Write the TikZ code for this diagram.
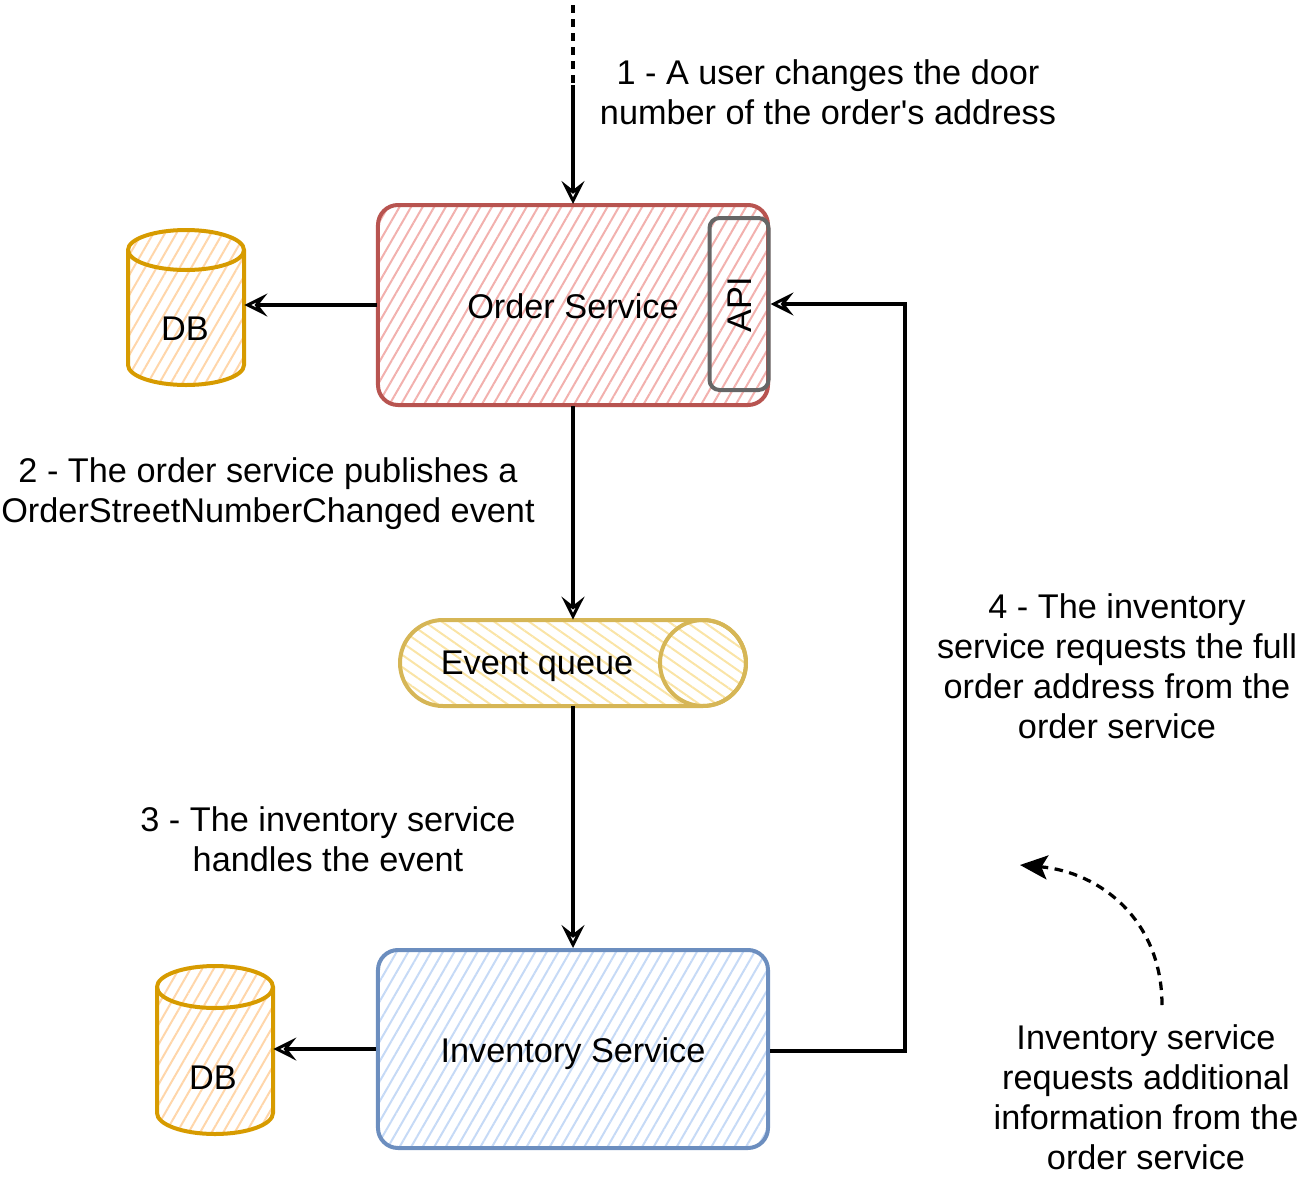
\documentclass[tikz,border=0pt]{standalone}
\usepackage{fontspec}
\setmainfont{Liberation Sans}[Ligatures=TeXOff]
\usetikzlibrary{arrows.meta,patterns.meta,calc}
\definecolor{redS}{HTML}{B85450}
\definecolor{redF}{HTML}{F2B1AE}
\definecolor{blueS}{HTML}{6C8EBF}
\definecolor{blueF}{HTML}{C6DAF6}
\definecolor{orS}{HTML}{D79B00}
\definecolor{orF}{HTML}{FFD6AA}
\definecolor{yeS}{HTML}{D6B656}
\definecolor{yeF}{HTML}{FAE4A6}
\definecolor{grS}{HTML}{666666}
\begin{document}
\begin{tikzpicture}[x=0.2mm,y=0.2mm,
  lab/.style={align=center,font=\fontsize{19.5}{22.8}\selectfont,inner sep=0pt},
  box/.style={rectangle,rounded corners=4mm,line width=0.8mm,inner sep=0pt},
  ghost/.style={rectangle,inner sep=0pt,draw=none},
  conn/.style={line width=0.65mm,draw=black,-{Stealth[open,length=4.6mm,width=4.6mm,inset=1.8mm,line width=0.6mm]}},
  hatch/.style={pattern={Lines[angle=#1,distance=2.0mm,line width=0.4mm]}},
  cyl/.style={line width=0.8mm,draw=orS,hatch=60,pattern color=orF}
]
\useasboundingbox (0,0) rectangle (1300,-1179);

% Order service
\node[box,draw=redS,hatch=60,pattern color=redF,minimum width=78mm,minimum height=40mm] (order) at (573,-305) {};
\node[lab] (ordertxt) at (573,-306) {Order Service};
\node[box,rounded corners=2mm,draw=grS,minimum width=11.8mm,minimum height=34.4mm] (api) at (739,-304) {};
\node[lab,rotate=90] (apitxt) at (740,-305) {API};

% DB top
\node[ghost,minimum width=23.2mm,minimum height=31mm] (dbtop) at (186,-307) {};
\draw[cyl] (128,-250) -- (128,-365) arc (180:360:58 and 20) -- (244,-250) arc (0:180:58 and 20) -- cycle;
\draw[line width=0.8mm,draw=orS] (128,-250) arc (180:360:58 and 20);
\node[lab] (dbtoptxt) at (185,-329) {DB};

% Event queue
\node[ghost,minimum width=69.2mm,minimum height=17.2mm] (queue) at (573,-663) {};
\draw[line width=0.8mm,draw=yeS,hatch=-35,pattern color=yeF] (443,-620) -- (703,-620) arc (90:-90:43) -- (443,-706) arc (270:90:43) -- cycle;
\draw[line width=0.8mm,draw=yeS] (703,-663) circle (43);
\node[lab] (queuetxt) at (537,-666) {Event queue};

% Inventory service
\node[box,draw=blueS,hatch=60,pattern color=blueF,minimum width=78mm,minimum height=39.6mm] (inv) at (573,-1049) {};
\node[lab] (invtxt) at (573,-1054) {Inventory Service};

% DB bottom
\node[ghost,minimum width=23.2mm,minimum height=34mm] (dbbot) at (215,-1050) {};
\draw[cyl] (157,-987) -- (157,-1113) arc (180:360:58 and 21) -- (273,-987) arc (0:180:58 and 21) -- cycle;
\draw[line width=0.8mm,draw=orS] (157,-987) arc (180:360:58 and 21);
\node[lab] (dbbottxt) at (213,-1078) {DB};

% connectors
\coordinate (start) at (573,-5);
\coordinate (mid) at (573,-85);
\draw[line width=0.65mm,dash pattern=on 1.6mm off 1.2mm] (start) -- (mid);
\draw[conn] (mid) -- (order.north);
\draw[conn] (order.west) -- (dbtop.east |- order.west);
\draw[conn] (order.south) -- (queue.north);
\draw[conn] (queue.south) -- (inv.north);
\draw[conn] (inv.west) -- (dbbot.east |- inv.west);
\coordinate (bend) at (905,-1051);
\draw[conn] (inv.east |- bend) -- (bend) |- (api.east);

\coordinate (cs) at (1162,-1005);
\coordinate (ce) at (1020,-865);
\draw[line width=0.65mm,dash pattern=on 1.7mm off 1.3mm,-{Stealth[length=5.5mm,width=4.8mm,inset=1.2mm]}] (cs) .. controls (1162,-920) and (1100,-872) .. (ce);

% labels
\node[lab] (l1) at (828,-92) {1 - A user changes the door\\number of the order's address};
\node[lab] (l2) at (268,-494) {2 - The order service publishes a\\OrderStreetNumberChanged event};
\node[lab] (l3) at (328,-839) {3 - The inventory service\\handles the event};
\node[lab] (l4) at (1117,-666) {4 - The inventory\\service requests the full\\order address from the\\order service};
\node[lab] (l5) at (1146,-1097) {Inventory service\\requests additional\\information from the\\order service};
\end{tikzpicture}
\end{document}
